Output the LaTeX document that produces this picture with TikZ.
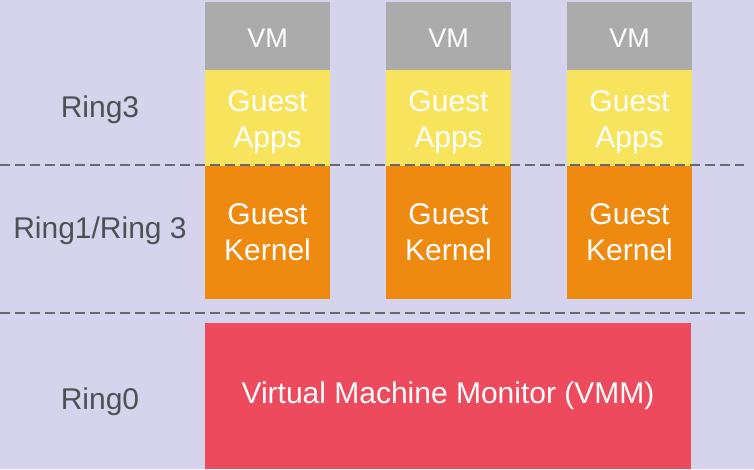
\documentclass[tikz,border=0pt]{standalone}
\usepackage{fontspec}
\setmainfont{Liberation Sans}
\usetikzlibrary{positioning}
\definecolor{bgLav}{RGB}{214,212,236}
\definecolor{vmGray}{RGB}{171,171,171}
\definecolor{appYellow}{RGB}{248,228,92}
\definecolor{kernOrange}{RGB}{239,138,16}
\definecolor{vmmRed}{RGB}{238,74,94}
\definecolor{ringText}{RGB}{80,80,84}
\definecolor{sepGray}{RGB}{104,104,110}

\begin{document}
\begin{tikzpicture}[x=1pt, y=-1pt,
  layer/.style={inner sep=0pt, outer sep=0pt, minimum width=125pt, align=center, text=white, font=\fontsize{30}{36}\selectfont},
  ringlabel/.style={anchor=base, text=ringText, font=\fontsize{30}{36}\selectfont},
  sep/.style={sepGray, line width=2.5pt, dash pattern=on 10pt off 5pt}]
  % Background
  \fill[bgLav] (0,0) rectangle (754,469);
  \useasboundingbox (0,0) rectangle (754,469);
  % VM columns
  \foreach \i/\x in {1/267.5, 2/448.5, 3/629.5} {
    \node[layer, fill=vmGray, minimum height=68pt, anchor=north, text height=22pt, font=\fontsize{27}{32}\selectfont] (vm\i) at (\x,2) {VM};
    \node[layer, fill=appYellow, minimum height=96pt, text height=66pt, below=0pt of vm\i] (apps\i) {Guest\\Apps};
    \node[layer, fill=kernOrange, minimum height=133pt, below=0pt of apps\i] (kern\i) {Guest\\Kernel};
  }
  % Monitor
  \node[layer, fill=vmmRed, minimum width=486pt, minimum height=146pt, anchor=north west] (vmm) at (205,323) {Virtual Machine Monitor (VMM)};
  % Ring boundaries
  \draw[sep] (0,165) -- (744,165);
  \draw[sep] (0,313) -- (745,313);
  % Ring labels
  \node[ringlabel] (ring3) at (100,117) {Ring3};
  \node[ringlabel] (ring13) at (100,238) {Ring1/Ring 3};
  \node[ringlabel] (ring0) at (100,409) {Ring0};
\end{tikzpicture}
\end{document}
